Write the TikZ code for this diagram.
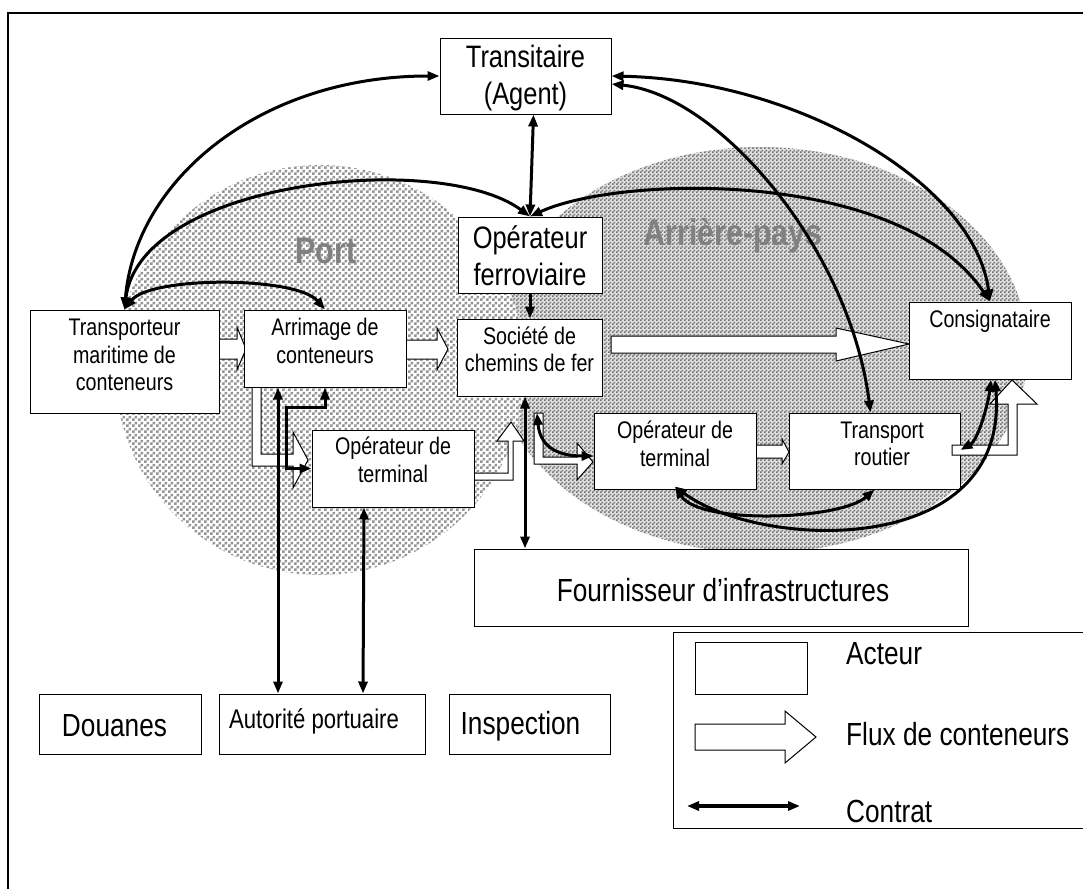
\documentclass[tikz,border=0pt]{standalone}
\usepackage{fontspec}
\setmainfont[FakeStretch=0.82]{Liberation Sans}
\usetikzlibrary{arrows.meta,patterns}
\pgfdeclarepatternformonly{checkfine}{\pgfpointorigin}{\pgfqpoint{4pt}{4pt}}{\pgfqpoint{4pt}{4pt}}{%
  \pgfpathrectangle{\pgfpointorigin}{\pgfqpoint{2pt}{2pt}}%
  \pgfpathrectangle{\pgfqpoint{2pt}{2pt}}{\pgfqpoint{2pt}{2pt}}%
  \pgfusepath{fill}}
\pgfdeclarepatternformonly{checkdots}{\pgfpointorigin}{\pgfqpoint{6pt}{6pt}}{\pgfqpoint{6pt}{6pt}}{%
  \pgfpathrectangle{\pgfpointorigin}{\pgfqpoint{3pt}{3pt}}%
  \pgfpathrectangle{\pgfqpoint{3pt}{3pt}}{\pgfqpoint{3pt}{3pt}}%
  \pgfusepath{fill}}
\newcommand{\fbig}{\fontsize{31}{37}\selectfont}
\newcommand{\fmid}{\fontsize{24}{27.5}\selectfont}
\newcommand{\flg}{\fontsize{32}{38}\selectfont}
\newcommand{\faut}{\fontsize{27}{32}\selectfont}
\begin{document}
\begin{tikzpicture}[x=1pt,y=-1pt,
  actor/.style={draw, fill=white, line width=1pt, inner sep=0pt},
  txt/.style={inner sep=0pt, align=center},
  flow/.style={draw, fill=white, line width=1pt, line join=miter},
  ctr/.style={line width=3pt, {Triangle[length=12pt,width=9pt]}-{Triangle[length=12pt,width=9pt]}},
  ctrone/.style={line width=3pt, -{Triangle[length=12pt,width=9pt]}},
  zone/.style={font=\fontsize{37}{42}\selectfont\bfseries, text=black!50, inner sep=0pt, anchor=base}]
\useasboundingbox (0,0) rectangle (1083,889);
% frame
\draw[line width=2pt] (8,13) -- (1083,13);
\draw[line width=1.5pt] (8,12) -- (8,889);
% zones
\fill[gray!25] (760,350) ellipse [x radius=268, y radius=203];
\fill[pattern=checkfine, pattern color=black!55] (760,350) ellipse [x radius=268, y radius=203];
\fill[white] (320,370) circle [radius=205];
\fill[pattern=checkdots, pattern color=black!42] (320,370) circle [radius=205];
\node[zone] (portlbl) at (326,263) {Port};
\node[zone] (arrlbl) at (733,245) {Arrière-pays};
% flows under boxes
\draw[flow] (219,339) -- (237,339) -- (237,327) -- (246,349) -- (237,370) -- (237,359) -- (219,359) -- cycle;
\draw[flow] (406,340) -- (437,340) -- (437,328) -- (448,349) -- (437,370) -- (437,359) -- (406,359) -- cycle;
\draw[flow] (252,387) -- (252,466) -- (293,466) -- (293,488) -- (308,460) -- (293,432) -- (293,454) -- (261,454) -- (261,387) -- cycle;
\draw[flow] (474,473) -- (508,473) -- (508,441) -- (497,441) -- (511,422) -- (524,441) -- (513,441) -- (513,480) -- (474,480) -- cycle;
\draw[flow] (611,336) -- (836,336) -- (836,328) -- (909,344) -- (836,361) -- (836,353) -- (611,353) -- cycle;
\draw[flow] (534,413) -- (534,464) -- (577,464) -- (577,480) -- (593,462) -- (577,443) -- (577,457) -- (543,457) -- (543,413) -- cycle;
\draw[flow] (756,445) -- (782,445) -- (782,439) -- (789,452) -- (782,464) -- (782,458) -- (756,458) -- cycle;
% boxes
\node[actor, minimum width=171pt, minimum height=76pt] (trans) at (525.5,76) {};
\node[txt, font=\fbig] (transT) at (525.5,78) {Transitaire\\(Agent)};
\node[actor, minimum width=144pt, minimum height=76pt] (opf) at (530,255) {};
\node[txt, font=\fbig] (opfT) at (530,256) {Opérateur\\ferroviaire};
\node[actor, minimum width=189pt, minimum height=103pt] (tmc) at (124.5,361.5) {};
\node[txt, font=\fmid] (tmcT) at (124.5,355) {Transporteur\\maritime de\\conteneurs};
\node[actor, minimum width=162pt, minimum height=77pt] (arr) at (325,348.5) {};
\node[txt, font=\fmid] (arrT) at (325,341) {Arrimage de\\conteneurs};
\node[actor, minimum width=145pt, minimum height=77pt] (soc) at (529.5,357.5) {};
\node[txt, font=\fmid] (socT) at (529.5,349.5) {Société de\\chemins de fer};
\node[actor, minimum width=162pt, minimum height=77pt] (opt1) at (393,468.5) {};
\node[txt, font=\fmid] (opt1T) at (393,460) {Opérateur de\\terminal};
\node[actor, minimum width=162pt, minimum height=76pt] (opt2) at (675,451) {};
\node[txt, font=\fmid] (opt2T) at (675,444) {Opérateur de\\terminal};
\node[actor, minimum width=171pt, minimum height=76pt] (tr) at (874.5,451) {};
\node[txt, font=\fmid] (trT) at (882,444) {Transport\\routier};
\node[actor, minimum width=162pt, minimum height=77pt] (cons) at (990,340.5) {};
\node[txt, font=\fmid] (consT) at (990,321) {Consignataire};
\node[actor, minimum width=494pt, minimum height=77pt] (four) at (721,587.5) {};
\node[txt, font=\flg] (fourT) at (723,590) {Fournisseur d’infrastructures};
\node[actor, minimum width=162pt, minimum height=60pt] (dou) at (120,724) {};
\node[txt, font=\flg] (douT) at (114.5,726) {Douanes};
\node[actor, minimum width=206pt, minimum height=60pt] (aut) at (322,724) {};
\node[txt, font=\faut] (autT) at (314,721) {Autorité portuaire};
\node[actor, minimum width=161pt, minimum height=60pt] (insp) at (529.5,724) {};
\node[txt, font=\flg] (inspT) at (520.5,726) {Inspection};
% flow over box
\draw[flow] (952,445) -- (1008,445) -- (1008,404) -- (990,404) -- (1012,380) -- (1037,404) -- (1017,404) -- (1017,455) -- (952,455) -- cycle;
% contracts
\draw[ctr] (tmc.north) .. controls (135,180) and (260,76) .. (trans.west);
\draw[ctr] (tmc.north) .. controls (140,180) and (440,150) .. (opf.north);
\draw[ctr] (tmc.north) .. controls (150,276) and (296,276) .. (arr.north);
\draw[ctr] ([xshift=8pt]trans.south) -- (opf.north);
\draw[ctr] (trans.east) .. controls (800,80) and (975,185) .. (cons.north);
\draw[ctr] ([yshift=-8pt]trans.east) .. controls (720,95) and (850,250) .. ([xshift=-4pt]tr.north);
\draw[ctr] (opf.north) .. controls (620,175) and (900,168) .. (cons.north);
\draw[ctrone] (opf.south) -- (opf.south |- soc.north);
\draw[ctr] ([xshift=-4.5pt]soc.south) -- ([xshift=-4.5pt]soc.south |- four.north);
\draw[ctr] ([xshift=-47pt]arr.south) -- ([xshift=-44pt]aut.north);
\draw[ctr] ([xshift=-29pt]opt1.south) -- ([xshift=41pt]aut.north);
\draw[ctr] (arr.south) -- ++(0,20) -- ++(-39,0) |- (opt1.west);
\coordinate (socfoot) at (537,413);
\draw[ctr] (socfoot) .. controls (540,445) and (555,456) .. ([yshift=-5pt]opt2.west);
\draw[ctr] ([yshift=3pt]opt2.south) .. controls (700,525) and (840,520) .. (tr.south);
\draw[ctr] ([yshift=3pt]opt2.south) .. controls (760,550) and (1010,560) .. ([xshift=5pt]cons.south);
\draw[ctr] ([yshift=1pt]tr.east) .. controls (978,440) and (988,405) .. ([xshift=1pt]cons.south);
% legend
\draw[line width=1pt] (673,632) rectangle (1095,828);
\node[actor, minimum width=112pt, minimum height=52pt] (lgact) at (751,668) {};
\draw[flow] (695,724) -- (785,724) -- (785,711) -- (816,737) -- (785,763) -- (785,750) -- (695,750) -- cycle;
\coordinate (lga) at (687,806);
\coordinate (lgb) at (800,806);
\draw[ctr, line width=3.5pt] (lga) -- (lgb);
\node[txt, font=\flg, anchor=west] (lgt1) at (846,654) {Acteur};
\node[txt, font=\flg, anchor=west] (lgt2) at (846,734) {Flux de conteneurs};
\node[txt, font=\flg, anchor=west] (lgt3) at (846,811) {Contrat};
\end{tikzpicture}
\end{document}
